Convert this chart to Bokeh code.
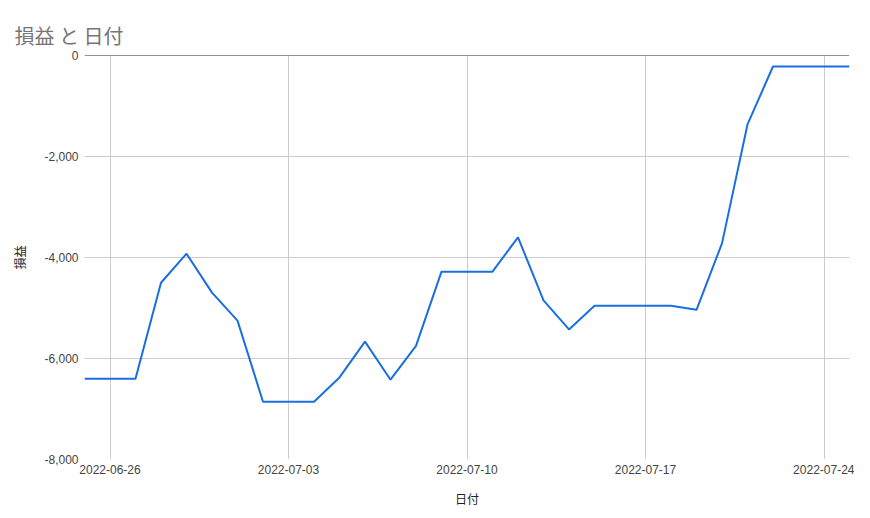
from datetime import datetime
from bokeh.plotting import figure
from bokeh.models import (Range1d, FixedTicker, DatetimeTickFormatter,
                          NumeralTickFormatter, Span, ColumnDataSource)
from bokeh.embed import file_html
from bokeh.resources import INLINE

title_text = "損益 と 日付"
dates = ["2022-06-25", "2022-06-26", "2022-06-27", "2022-06-28", "2022-06-29",
         "2022-06-30", "2022-07-01", "2022-07-02", "2022-07-03", "2022-07-04",
         "2022-07-05", "2022-07-06", "2022-07-07", "2022-07-08", "2022-07-09",
         "2022-07-10", "2022-07-11", "2022-07-12", "2022-07-13", "2022-07-14",
         "2022-07-15", "2022-07-16", "2022-07-17", "2022-07-18", "2022-07-19",
         "2022-07-20", "2022-07-21", "2022-07-22", "2022-07-23", "2022-07-24",
         "2022-07-25"]
pnl = [-6400, -6400, -6400, -4500, -3925, -4695, -5250, -6855, -6855, -6855,
       -6375, -5665, -6420, -5750, -4280, -4280, -4280, -3600, -4850, -5425,
       -4955, -4955, -4955, -4955, -5035, -3720, -1365, -218, -218, -218,
       -218]
x_tick_dates = ["2022-06-26", "2022-07-03", "2022-07-10", "2022-07-17", "2022-07-24"]
y_ticks = [-8000, -6000, -4000, -2000, 0]

def to_dt(s):
    return datetime.strptime(s, "%Y-%m-%d")

def to_ms(s):
    return (to_dt(s) - datetime(1970, 1, 1)).total_seconds() * 1000.0

src = ColumnDataSource(dict(x=[to_dt(d) for d in dates], y=pnl))

p = figure(frame_width=765, frame_height=404, x_axis_type="datetime",
           output_backend="svg", toolbar_location=None,
           x_range=Range1d(to_dt(dates[0]), to_dt(dates[-1])),
           y_range=Range1d(y_ticks[0], y_ticks[-1]),
           min_border_left=84, min_border_right=5,
           min_border_top=55, min_border_bottom=55)
p.outline_line_color = None
p.background_fill_color = "white"
p.border_fill_color = "white"

p.title.text = title_text
p.title.text_font = "Noto Sans CJK JP"
p.title.text_font_size = "20px"
p.title.text_font_style = "normal"
p.title.text_color = "#757575"
p.title.align = "left"
p.title.offset = -70
p.title.vertical_align = "top"
p.title.text_baseline = "middle"
p.title.standoff = 8

p.line("x", "y", source=src, line_color="#1a6fe0", line_width=2)

p.xaxis.ticker = FixedTicker(ticks=[to_ms(d) for d in x_tick_dates])
p.xaxis.formatter = DatetimeTickFormatter(days="%Y-%m-%d", months="%Y-%m-%d",
                                          years="%Y-%m-%d")
p.yaxis.ticker = FixedTicker(ticks=y_ticks)
p.yaxis.formatter = NumeralTickFormatter(format="0,0")

for ax in (p.xaxis[0], p.yaxis[0]):
    ax.axis_line_color = None
    ax.major_tick_line_color = None
    ax.minor_tick_line_color = None
    ax.major_tick_out = 0
    ax.major_tick_in = 0
    ax.minor_tick_out = 0
    ax.minor_tick_in = 0
    ax.major_label_text_font = "Liberation Sans"
    ax.major_label_text_font_size = "12px"
    ax.major_label_text_color = "#444444"
    ax.axis_label_text_font = "Noto Sans CJK JP"
    ax.axis_label_text_font_size = "12px"
    ax.axis_label_text_font_style = "normal"
    ax.axis_label_text_color = "#222222"

p.xaxis.axis_label = "日付"
p.yaxis.axis_label = "損益"
p.yaxis.major_label_standoff = 6
p.xaxis.major_label_standoff = 5
p.xaxis.axis_label_standoff = 13
p.yaxis.axis_label_standoff = 13

p.xgrid.grid_line_color = "#cccccc"
p.ygrid.grid_line_color = "#cccccc"
p.xgrid.grid_line_width = 1
p.ygrid.grid_line_width = 1

p.add_layout(Span(location=y_ticks[-1], dimension="width",
                  line_color="#222222", line_width=1))

open("out.html", "w").write(file_html(p, INLINE))
